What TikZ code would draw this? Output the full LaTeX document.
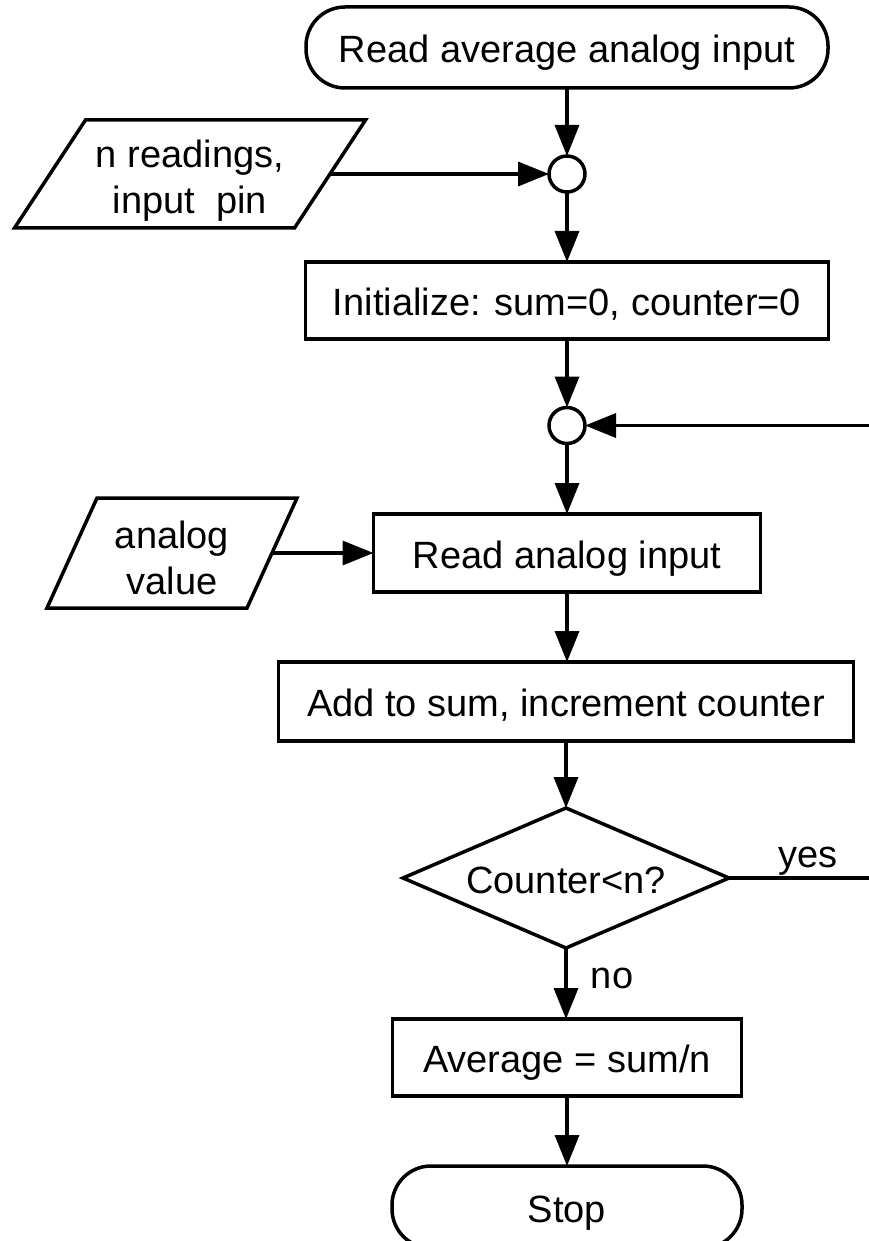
\documentclass[tikz,border=0pt]{standalone}
\usepackage{fontspec}
\setmainfont{Liberation Sans}
\usetikzlibrary{arrows.meta}
\begin{document}
\begin{tikzpicture}[x=1pt,y=-1pt,
  every node/.style={font=\fontsize{38}{46}\selectfont, inner sep=0pt, outer sep=0pt},
  line/.style={line width=3.5pt, line join=miter},
  arr/.style={line, -{Triangle[length=31pt,width=24pt]}},
  stext/.style={text height=34pt, text depth=4pt},
  boxnode/.style={draw, line width=3.5pt, rectangle, stext},
  term/.style={draw, line width=3.5pt, rectangle, rounded corners=39pt, stext},
  junc/.style={draw, line width=3.5pt, circle, minimum size=36pt, fill=white},
  iotext/.style={align=center},
]
\useasboundingbox (0,0) rectangle (869,1241);
\clip (0,0) rectangle (869,1241);
\fill[white] (0,0) rectangle (869,1241);

% main column
\node[term, minimum width=522pt, minimum height=81pt] (start) at (567,47.5) {Read average analog input};
\node[junc] (c1) at (567,174) {};
\node[boxnode, minimum width=523pt, minimum height=77pt] (init) at (567,300.5) {Initialize: sum=0, counter=0};
\node[junc] (c2) at (567,425.5) {};
\node[boxnode, minimum width=387pt, minimum height=78pt] (read) at (567,553) {Read analog input};
\node[boxnode, minimum width=575pt, minimum height=79pt] (add) at (566,701.5) {Add to sum, increment counter};
\node[stext, minimum width=326pt, minimum height=140pt] (dec) at (566,878) {Counter<n?};
\draw[line] (dec.north) -- (dec.east) -- (dec.south) -- (dec.west) -- cycle;
\node[boxnode, minimum width=349pt, minimum height=77pt] (avg) at (567,1057.5) {Average = sum/n};
\node[term, minimum width=350pt, minimum height=82pt] (stop) at (567,1207) {Stop};

% input parallelograms
\node[minimum width=280pt, minimum height=108pt] (in1) at (190,174) {};
\node[iotext] (in1t) at ([yshift=-6.5pt]in1.center) {n readings,\\input\ \ pin};
\draw[line] ([xshift=35.5pt]in1.north west) -- ([xshift=35.5pt]in1.north east)
  -- ([xshift=-35.5pt]in1.south east) -- ([xshift=-35.5pt]in1.south west) -- cycle;

\node[minimum width=200pt, minimum height=110pt] (in2) at (172,553) {};
\node[iotext] (in2t) at ([yshift=-4.5pt]in2.center) {analog\\value};
\draw[line] ([xshift=25pt]in2.north west) -- ([xshift=25pt]in2.north east)
  -- ([xshift=-25pt]in2.south east) -- ([xshift=-25pt]in2.south west) -- cycle;

\coordinate (loopR) at (885,878);

% connectors
\draw[arr] (start) -- (c1);
\draw[arr] (in1.east) -- (c1.west);
\draw[arr] (c1) -- (init);
\draw[arr] (init) -- (c2);
\draw[arr] (c2) -- (read);
\draw[arr] (in2.east) -- (read.west);
\draw[arr] (read) -- (add.north -| read.south);
\draw[arr] (add) -- (dec.north);
\draw[arr] (dec.east) -- (loopR) |- (c2.east);
\draw[arr] (dec.south) -- (avg.north -| dec.south);
\draw[arr] (avg) -- (stop);

% labels
\node[anchor=base] (yes) at (808,867) {yes};
\node[anchor=base] (no) at (612,988) {no};
\end{tikzpicture}
\end{document}
